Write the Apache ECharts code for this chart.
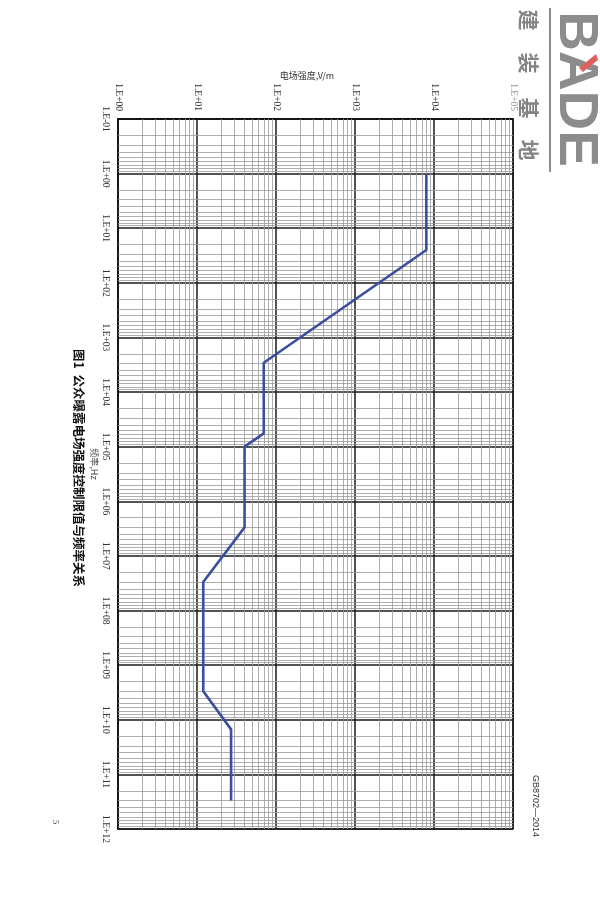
<!DOCTYPE html>
<html>
<head>
<meta charset="utf-8">
<script src="https://cdn.jsdelivr.net/npm/echarts@6/dist/echarts.min.js"></script>
<style>html,body{margin:0;padding:0;background:#fff;}#c{width:600px;height:900px;}</style>
</head>
<body>
<div id="c"></div>
<script>
// Frequency (Hz) breakpoints and electric field strength limits (V/m)
const freqHz  = [1, 25, 2900, 57000, 1e5, 3e6, 3e7, 3e9, 1.5e10, 3e11];
const fieldVm = [8000, 8000, 70, 70, 40, 40, 12, 12, 27, 27];

// Axis ticks (decades)
const fieldTicks = [1, 10, 100, 1000, 10000, 100000];
const freqTicks  = [0.1, 1, 10, 100, 1e3, 1e4, 1e5, 1e6, 1e7, 1e8, 1e9, 1e10, 1e11, 1e12];
const minorSteps = [2, 3, 4, 5, 6, 7, 8, 9];

function fmt(v) {
  const e = Math.round(Math.log10(v));
  return '1.E' + (e < 0 ? '-' : '+') + String(Math.abs(e)).padStart(2, '0');
}

const minorX = [];
fieldTicks.slice(0, -1).forEach(d => minorSteps.forEach(m => minorX.push({ xAxis: d * m })));
const minorY = [];
freqTicks.slice(0, -1).forEach(d => minorSteps.forEach(m => minorY.push({ yAxis: d * m })));

const lineData = freqHz.map((f, i) => [fieldVm[i], f]);

const chart = echarts.init(document.getElementById('c'), null, { renderer: 'canvas' });
const labelFont = 'Liberation Serif';
const rot = -Math.PI / 2;
chart.setOption({
  animation: false,
  backgroundColor: '#fff',
  grid: { left: 118, right: 87, top: 119, bottom: 71, show: true, borderColor: '#111', borderWidth: 1.5 },
  xAxis: {
    type: 'log', position: 'top', min: 1, max: 1e5, interval: 1, logBase: 10,
    axisLine: { show: true, lineStyle: { color: '#111', width: 1.5 } },
    axisTick: { show: false },
    splitLine: { show: true, lineStyle: { color: '#1a1a1a', width: 1.5 } },
    axisLabel: {
      rotate: 90, margin: 8, fontSize: 9.5, color: '#333', fontFamily: labelFont,
      formatter: v => (Math.round(Math.log10(v)) === 5 ? '{f|' + fmt(v) + '}' : fmt(v)),
      rich: { f: { color: '#999', fontSize: 9.5, fontFamily: labelFont } }
    }
  },
  yAxis: {
    type: 'log', inverse: true, min: 0.1, max: 1e12, interval: 1, logBase: 10,
    axisLine: { show: true, lineStyle: { color: '#111', width: 1.5 } },
    axisTick: { show: false },
    splitLine: { show: true, lineStyle: { color: '#1a1a1a', width: 1.5 } },
    axisLabel: { rotate: -90, margin: 8, fontSize: 9.5, color: '#333', fontFamily: labelFont, formatter: fmt }
  },
  series: [
    {
      type: 'line', data: [], z: 1, silent: true,
      markLine: {
        silent: true, symbol: ['none', 'none'], label: { show: false },
        lineStyle: { type: 'solid', color: '#999', width: 0.8 },
        emphasis: { disabled: true },
        data: minorX.concat(minorY)
      }
    },
    {
      type: 'line', data: lineData, z: 5, symbol: 'none', smooth: false,
      lineStyle: { color: '#3b4f9e', width: 2.6 }
    }
  ],
  graphic: [
    { type: 'text', x: 307, y: 76, style: { text: '电场强度,V/m', font: '9px "Noto Sans CJK SC"', fill: '#333', textAlign: 'center', textVerticalAlign: 'middle' } },
    { type: 'text', x: 94, y: 464, rotation: rot, style: { text: '频率,Hz', font: '9px "Noto Sans CJK SC"', fill: '#444', textAlign: 'center', textVerticalAlign: 'middle' } },
    { type: 'text', x: 79, y: 468, rotation: rot, style: { text: '图1  公众曝露电场强度控制限值与频率关系', font: 'bold 12.5px "Noto Sans CJK SC"', fill: '#111', textAlign: 'center', textVerticalAlign: 'middle' } },
    { type: 'text', x: 535, y: 806, rotation: rot, style: { text: 'GB8702—2014', font: '9px "Liberation Sans"', fill: '#333', textAlign: 'center', textVerticalAlign: 'middle' } },
    { type: 'text', x: 55, y: 822, rotation: rot, style: { text: '5', font: '9px "Liberation Serif"', fill: '#555', textAlign: 'center', textVerticalAlign: 'middle' } },
    { type: 'text', x: 575, y: 89, rotation: rot, scaleX: 0.98, style: { text: 'BADE', font: 'bold 56px "Liberation Sans"', fill: '#8c8c8c', textAlign: 'center', textVerticalAlign: 'middle' } },
    { type: 'polygon', z: 10, shape: { points: [[579, 68], [596, 54], [598, 60], [583, 72]] }, style: { fill: '#e06060' } },
    { type: 'line', shape: { x1: 550, y1: 8, x2: 550, y2: 172 }, style: { stroke: '#8c8c8c', lineWidth: 2 } },
    { type: 'text', x: 529, y: 20, rotation: rot, style: { text: '建', font: 'bold 21px "Noto Sans CJK SC"', fill: '#848484', textAlign: 'center', textVerticalAlign: 'middle' } },
    { type: 'text', x: 529, y: 63, rotation: rot, style: { text: '装', font: 'bold 21px "Noto Sans CJK SC"', fill: '#848484', textAlign: 'center', textVerticalAlign: 'middle' } },
    { type: 'text', x: 529, y: 108, rotation: rot, style: { text: '基', font: 'bold 21px "Noto Sans CJK SC"', fill: '#848484', textAlign: 'center', textVerticalAlign: 'middle' } },
    { type: 'text', x: 529, y: 150, rotation: rot, style: { text: '地', font: 'bold 21px "Noto Sans CJK SC"', fill: '#848484', textAlign: 'center', textVerticalAlign: 'middle' } }
  ]
});
</script>
</body>
</html>
